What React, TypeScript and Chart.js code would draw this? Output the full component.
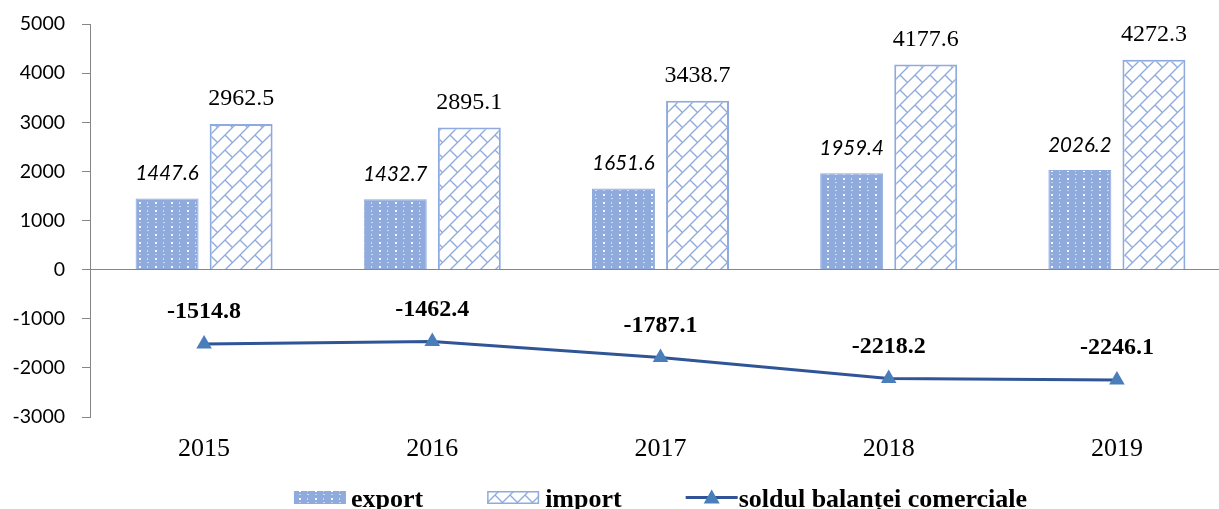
import React, { useEffect, useRef } from "react";
import { Chart, registerables } from "chart.js";

Chart.register(...registerables);

const categories = ["2015", "2016", "2017", "2018", "2019"];
const exportValues = [1447.6, 1432.7, 1651.6, 1959.4, 2026.2];
const importValues = [2962.5, 2895.1, 3438.7, 4177.6, 4272.3];
const balanceValues = [-1514.8, -1462.4, -1787.1, -2218.2, -2246.1];
const seriesNames = ["export", "import", "soldul balanței comerciale"];

const BAR_BLUE = "#8FAADC";
const LINE_BLUE = "#2F5597";
const MARKER_BLUE = "#4A7EBB";
const AXIS_GRAY = "#868686";

function makeDotTile(): HTMLCanvasElement {
  const c = document.createElement("canvas");
  c.width = 16;
  c.height = 8;
  const g = c.getContext("2d")!;
  g.fillStyle = BAR_BLUE;
  g.fillRect(0, 0, 16, 8);
  g.fillStyle = "rgba(255,255,255,0.95)";
  g.fillRect(11, 2, 2, 2);
  g.fillStyle = "rgba(255,255,255,0.6)";
  g.fillRect(3, 6, 2, 1);
  g.fillRect(3, 2, 1, 2);
  g.fillStyle = "rgba(255,255,255,0.45)";
  g.fillRect(11, 6, 2, 1);
  return c;
}

function makeBrickTile(): HTMLCanvasElement {
  const T = 15;
  const c = document.createElement("canvas");
  c.width = T;
  c.height = T;
  const g = c.getContext("2d")!;
  g.fillStyle = "#ffffff";
  g.fillRect(0, 0, T, T);
  g.strokeStyle = BAR_BLUE;
  g.lineWidth = 1.3;
  for (let dx = -T; dx <= T; dx += T) {
    for (let dy = -T; dy <= T; dy += T) {
      g.beginPath();
      g.moveTo(dx, dy + T);
      g.lineTo(dx + T, dy);
      g.stroke();
      g.beginPath();
      g.moveTo(dx, dy);
      g.lineTo(dx + T / 2, dy + T / 2);
      g.stroke();
    }
  }
  return c;
}

export default function App() {
  const ref = useRef<HTMLCanvasElement | null>(null);

  useEffect(() => {
    const canvas = ref.current!;
    const ctx0 = canvas.getContext("2d")!;
    const dotPattern = ctx0.createPattern(makeDotTile(), "repeat")!;
    const brickPattern = ctx0.createPattern(makeBrickTile(), "repeat")!;

    const labelsPlugin = {
      id: "valueLabels",
      afterDatasetsDraw(chart: any) {
        const ctx = chart.ctx;
        ctx.save();
        ctx.fillStyle = "#000";
        ctx.textAlign = "center";
        ctx.textBaseline = "middle";
        const m0 = chart.getDatasetMeta(0);
        ctx.font = "italic 20.5px Lato";
        m0.data.forEach((el: any, i: number) => {
          ctx.fillText(exportValues[i].toFixed(1), el.x, el.y - 25);
        });
        const m1 = chart.getDatasetMeta(1);
        ctx.font = "24px 'Liberation Serif'";
        m1.data.forEach((el: any, i: number) => {
          ctx.fillText(importValues[i].toFixed(1), el.x, el.y - 25);
        });
        const m2 = chart.getDatasetMeta(2);
        ctx.font = "bold 24px 'Liberation Serif'";
        m2.data.forEach((el: any, i: number) => {
          ctx.fillText(balanceValues[i].toFixed(1), el.x, el.y - 32);
        });
        ctx.restore();
      },
      afterDraw(chart: any) {
        const ctx = chart.ctx;
        const area = chart.chartArea;
        ctx.save();
        const legendFont = "bold 26px 'Liberation Serif'";
        ctx.font = legendFont;
        ctx.textAlign = "left";
        ctx.textBaseline = "alphabetic";
        const sw = 52;
        const sh = 13;
        const gaps = [5, 6, 1];
        const gapItem = 64;
        const widths = seriesNames.map((n, i) => sw + gaps[i] + ctx.measureText(n).width);
        const total = widths.reduce((a, b) => a + b, 0) + gapItem * (widths.length - 1);
        let x = (area.left + area.right) / 2 - total / 2;
        const baseline = 507;
        const yc = 497.5;
        seriesNames.forEach((name, i) => {
          if (i === 0) {
            ctx.fillStyle = dotPattern;
            ctx.fillRect(x, yc - sh / 2, sw, sh);
          } else if (i === 1) {
            ctx.fillStyle = brickPattern;
            ctx.fillRect(x, yc - sh / 2, sw, sh);
            ctx.strokeStyle = BAR_BLUE;
            ctx.lineWidth = 1.5;
            ctx.strokeRect(x + 0.75, yc - sh / 2 + 0.75, sw - 1.5, sh - 1.5);
          } else {
            ctx.strokeStyle = LINE_BLUE;
            ctx.lineWidth = 3;
            ctx.beginPath();
            ctx.moveTo(x, yc);
            ctx.lineTo(x + sw, yc);
            ctx.stroke();
            const cx = x + sw / 2;
            ctx.fillStyle = MARKER_BLUE;
            ctx.beginPath();
            ctx.moveTo(cx, yc - 8);
            ctx.lineTo(cx + 8, yc + 6);
            ctx.lineTo(cx - 8, yc + 6);
            ctx.closePath();
            ctx.fill();
          }
          ctx.fillStyle = "#000";
          ctx.font = legendFont;
          ctx.fillText(name, x + sw + gaps[i], baseline);
          x += widths[i] + gapItem;
        });
        ctx.restore();
      },
    };

    const chart = new Chart(canvas, {
      type: "bar",
      data: {
        labels: categories,
        datasets: [
          {
            label: seriesNames[0],
            data: exportValues,
            backgroundColor: dotPattern as any,
            borderColor: BAR_BLUE,
            borderWidth: 1,
            categoryPercentage: 0.649,
            barPercentage: 0.85,
            order: 1,
          },
          {
            label: seriesNames[1],
            data: importValues,
            backgroundColor: brickPattern as any,
            borderColor: BAR_BLUE,
            borderWidth: 2,
            categoryPercentage: 0.649,
            barPercentage: 0.85,
            order: 1,
          },
          {
            type: "line",
            label: seriesNames[2],
            data: balanceValues,
            borderColor: LINE_BLUE,
            borderWidth: 3,
            pointStyle: "triangle",
            pointRadius: 9,
            pointHoverRadius: 9,
            pointBackgroundColor: MARKER_BLUE,
            pointBorderColor: MARKER_BLUE,
            pointBorderWidth: 0,
            tension: 0,
            order: 0,
          } as any,
        ],
      },
      options: {
        responsive: false,
        animation: false,
        devicePixelRatio: 1,
        layout: { padding: { left: 0, right: 19, top: 24, bottom: 0 } },
        plugins: {
          legend: { display: false },
          tooltip: { enabled: false },
        },
        scales: {
          x: {
            grid: { display: false },
            border: { display: false },
            ticks: {
              color: "#000",
              font: { family: "'Liberation Serif'", size: 26 },
              padding: 9,
            },
            afterFit: (scale: any) => {
              scale.height = 92;
              scale.paddingLeft = 0;
              scale.paddingRight = 0;
            },
          },
          y: {
            min: -3000,
            max: 5000,
            ticks: {
              stepSize: 1000,
              color: "#000",
              font: { family: "Lato", size: 19.5 },
              padding: 17,
              callback: (v: any) => String(v),
            },
            grid: {
              drawOnChartArea: true,
              color: (c: any) => (c.tick && c.tick.value === 0 ? AXIS_GRAY : "rgba(0,0,0,0)"),
              tickColor: AXIS_GRAY,
              tickLength: 8,
              lineWidth: 1,
            },
            border: { display: true, color: AXIS_GRAY, width: 1 },
            afterFit: (scale: any) => {
              scale.width = 90;
              scale.paddingTop = 0;
              scale.paddingBottom = 0;
            },
          },
        },
      },
      plugins: [labelsPlugin],
    });

    return () => chart.destroy();
  }, []);

  return (
    <div
      style={{
        position: "fixed",
        left: 0,
        top: 0,
        width: 1219,
        height: 509,
        overflow: "hidden",
        background: "#fff",
      }}
    >
      <canvas ref={ref} width={1250} height={509} style={{ display: "block" }} />
    </div>
  );
}
